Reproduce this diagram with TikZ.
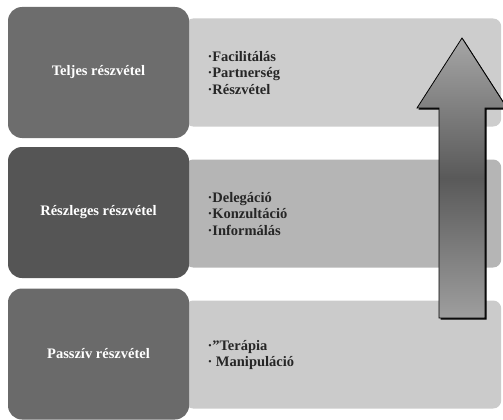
\documentclass[tikz,border=0pt]{standalone}
\usepackage{fontspec}
\setmainfont{Liberation Serif}
\usetikzlibrary{positioning}
\definecolor{boxA}{HTML}{6D6D6D}
\definecolor{boxB}{HTML}{555555}
\definecolor{boxC}{HTML}{6A6A6A}
\definecolor{bandA}{HTML}{CDCDCD}
\definecolor{bandB}{HTML}{B5B5B5}
\definecolor{bandC}{HTML}{CBCBCB}
\tikzstyle{level}=[rounded corners=14pt, minimum width=181pt, minimum height=131pt, text=white, font=\bfseries\fontsize{14.5}{16}\selectfont]
\tikzstyle{band}=[rounded corners=8pt, anchor=west, minimum width=316pt, minimum height=108pt]
\tikzstyle{items}=[anchor=west, align=left, text=black!85, font=\bfseries\fontsize{14.5}{16.5}\selectfont]

\begin{document}
\begin{tikzpicture}[x=1pt, y=-1pt]
\useasboundingbox (0,0) rectangle (503,420);
% Bands
    \node[band, fill=bandA] (band1) at (185,72.5) {};
    \node[band, fill=bandB] (band2) at (185,213.5) {};
    \node[band, fill=bandC] (band3) at (185,354.5) {};
% Levels
    \node[level, fill=boxA] (full) at (98.5,72.5) {Teljes részvétel};
    \node[level, fill=boxB] (partial) at (98.5,212.5) {Részleges részvétel};
    \node[level, fill=boxC] (passive) at (98.5,354) {Passzív részvétel};
% Items
    \node[items] (list1) at (204,73) {·Facilitálás\\·Partnerség\\·Részvétel};
    \node[items] (list2) at (204,214) {·Delegáció\\·Konzultáció\\·Informálás};
    \node[items] (list3) at (204,355) {·”Terápia\\· Manipuláció};
% Arrow
    \fill[black] (463.5,39.5) -- (508.5,109.5) -- (486.5,109.5) -- (486.5,319.5)
        -- (440.5,319.5) -- (440.5,109.5) -- (418.5,109.5) -- cycle;
    \draw[thick, top color=black!35, bottom color=black!38, middle color=black!65]
        (462,38) -- (507,108) -- (485,108) -- (485,318)
        -- (439,318) -- (439,108) -- (417,108) -- cycle;
\end{tikzpicture}
\end{document}
